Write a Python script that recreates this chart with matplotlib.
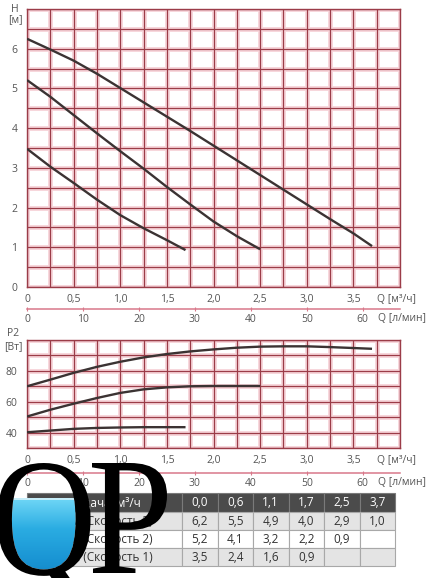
import numpy as np
import matplotlib
matplotlib.use('Agg')
import matplotlib.pyplot as plt
from matplotlib.patches import Rectangle, PathPatch, Polygon
from matplotlib.textpath import TextPath
from matplotlib.font_manager import FontProperties
import matplotlib.transforms as mtransforms

plt.rcParams['font.family'] = ['Open Sans', 'DejaVu Sans']

# --- данные ---
q_s3 = [0, 0.25, 0.5, 0.75, 1.0, 1.25, 1.5, 1.75, 2.0, 2.25, 2.5, 2.75, 3.0, 3.25, 3.5, 3.7]
h_s3 = [6.25, 5.98, 5.70, 5.37, 5.01, 4.65, 4.29, 3.93, 3.56, 3.19, 2.82, 2.45, 2.08, 1.71, 1.35, 1.03]
p_s3 = [70.0, 74.3, 78.7, 82.6, 85.9, 88.7, 90.9, 92.6, 93.9, 95.0, 95.7, 95.9, 95.9, 95.4, 94.8, 94.3]

q_s2 = [0, 0.25, 0.5, 0.75, 1.0, 1.25, 1.5, 1.75, 2.0, 2.25, 2.5]
h_s2 = [5.21, 4.79, 4.33, 3.87, 3.42, 2.98, 2.52, 2.08, 1.65, 1.28, 0.95]
p_s2 = [50.4, 54.8, 58.7, 62.4, 65.7, 68.0, 69.3, 70.0, 70.2, 70.2, 70.2]

q_s1 = [0, 0.25, 0.5, 0.75, 1.0, 1.25, 1.5, 1.7]
h_s1 = [3.48, 3.03, 2.62, 2.20, 1.81, 1.48, 1.18, 0.93]
p_s1 = [40.2, 41.3, 42.4, 43.0, 43.3, 43.5, 43.5, 43.5]

q_ticks = [0, 0.5, 1.0, 1.5, 2.0, 2.5, 3.0, 3.5]
lmin_ticks = [0, 10, 20, 30, 40, 50, 60]
h_ticks = [0, 1, 2, 3, 4, 5, 6]
p_ticks = [40, 60, 80]

tab_header = ['Подача, м³/ч', '0,0', '0,6', '1,1', '1,7', '2,5', '3,7']
tab_rows = [
    ['H, м (Скорость 3)', '6,2', '5,5', '4,9', '4,0', '2,9', '1,0'],
    ['H, м (Скорость 2)', '5,2', '4,1', '3,2', '2,2', '0,9', ''],
    ['H, м (Скорость 1)', '3,5', '2,4', '1,6', '0,9', '', ''],
]

W, H = 429, 578
fig = plt.figure(figsize=(W / 100, H / 100), dpi=100)

grid_col = '#9b3c48'
halo_col = '#f7d5da'
curve_col = '#3b3333'
lbl_col = '#555555'
sec_col = '#d8788a'


def px_axes(l, t, r, b):
    return fig.add_axes([l / W, 1 - b / H, (r - l) / W, (b - t) / H])


def decimal(v):
    return ('%.1f' % v).replace('.', ',') if v != 0 else '0'


def setup(ax, ymax, ymin, ystep, yt):
    ax.set_xlim(0, 4)
    ax.set_ylim(ymin, ymax)
    for x in np.arange(0, 4.01, 0.25):
        ax.axvline(x, color=halo_col, lw=3.5, zorder=0)
        ax.axvline(x, color=grid_col, lw=0.9, zorder=1)
    for y in np.arange(ymin, ymax + 0.01, ystep):
        ax.axhline(y, color=halo_col, lw=3.5, zorder=0)
        ax.axhline(y, color=grid_col, lw=0.9, zorder=1)
    for s in ax.spines.values():
        s.set_color(grid_col)
        s.set_linewidth(1.0)
    ax.set_xticks(q_ticks)
    ax.set_xticklabels([decimal(v) for v in q_ticks])
    ax.set_yticks(yt)
    ax.tick_params(length=0, labelsize=7.5, labelcolor=lbl_col, pad=5)
    ax.tick_params(axis='y', pad=7)


def sec_axis(ax, loc):
    sec = ax.secondary_xaxis(loc, functions=(lambda q: q * 1000 / 60, lambda l: l * 60 / 1000))
    sec.set_xticks(lmin_ticks)
    sec.spines['bottom'].set_color(sec_col)
    sec.spines['bottom'].set_linewidth(1.1)
    sec.tick_params(length=3, direction='inout', color=sec_col, labelsize=7.5,
                    labelcolor=lbl_col, pad=2)
    return sec


# --- напор ---
ax1 = px_axes(27, 9, 400, 287)
setup(ax1, 7, 0, 0.5, h_ticks)
for q, h in [(q_s3, h_s3), (q_s2, h_s2), (q_s1, h_s1)]:
    ax1.plot(q, h, color=curve_col, lw=1.7, solid_capstyle='butt', zorder=3)
ax1.text(0.937, -0.025, 'Q [м³/ч]', transform=ax1.transAxes, fontsize=7.5,
         color=lbl_col, ha='left', va='top')
sec_axis(ax1, -22 / 278)
ax1.text(0.94, -22 / 278 - 0.015, 'Q [л/мин]', transform=ax1.transAxes, fontsize=7.5,
         color=lbl_col, ha='left', va='top')

# --- мощность ---
ax2 = px_axes(27, 340, 400, 448)
setup(ax2, 100, 30, 10, p_ticks)
for q, p in [(q_s3, p_s3), (q_s2, p_s2), (q_s1, p_s1)]:
    ax2.plot(q, p, color=curve_col, lw=1.7, solid_capstyle='butt', zorder=3)
ax2.text(0.937, -0.065, 'Q [м³/ч]', transform=ax2.transAxes, fontsize=7.5,
         color=lbl_col, ha='left', va='top')
sec_axis(ax2, -25 / 108)
ax2.text(0.94, -25 / 108 - 0.04, 'Q [л/мин]', transform=ax2.transAxes, fontsize=7.5,
         color=lbl_col, ha='left', va='top')

# --- накладка в пикселях: подписи осей, таблица, логотип ---
ov = fig.add_axes([0, 0, 1, 1], zorder=10)
ov.axis('off')
ov.patch.set_alpha(0)

ov.text(15, 9, 'H', fontsize=7.5, color=lbl_col, ha='center', va='center')
ov.text(15, 20, '[м]', fontsize=7.5, color=lbl_col, ha='center', va='center')
ov.text(13, 334, 'P2', fontsize=7.5, color=lbl_col, ha='center', va='center')
ov.text(13, 347, '[Вт]', fontsize=7.5, color=lbl_col, ha='center', va='center')

# таблица
col_edges = [27, 182] + list(np.linspace(182, 395, 7)[1:])
row_edges = [493, 512, 530, 548, 566]
row_fill = ['#4b4b4b', '#e4e4e4', '#ffffff', '#e4e4e4']
for i, row in enumerate([tab_header] + tab_rows):
    for j, txt in enumerate(row):
        x0, x1 = col_edges[j], col_edges[j + 1]
        y0, y1 = row_edges[i], row_edges[i + 1]
        ov.add_patch(Rectangle((x0, y0), x1 - x0, y1 - y0, facecolor=row_fill[i],
                               edgecolor='#a8a8a8' if i else '#7a7a7a', lw=0.8, zorder=1))
        ov.text((x0 + x1) / 2, (y0 + y1) / 2 + 0.5, txt, fontsize=8.5,
                color='white' if i == 0 else '#333333', ha='center', va='center', zorder=2)

# логотип QP
fp = FontProperties(family='Liberation Serif')
tp_p = TextPath((0, 0), 'P', size=100, prop=fp)
tp_q = TextPath((0, 0), 'Q', size=100, prop=fp)
ep = tp_p.get_extents()
sx = (167 - 92) / ep.width
sy = (573 - 463) / ep.height
tr_p = mtransforms.Affine2D().translate(-ep.x0, -ep.y1).scale(sx, -sy).translate(92, 463)
eq = tp_q.get_extents()
tr_q = mtransforms.Affine2D().translate(-eq.x0, -eq.y1).scale(sx * 0.95, -sy).translate(-3, 463)

polys = tp_q.to_polygons()
areas = [abs(np.sum(p[:-1, 0] * p[1:, 1] - p[1:, 0] * p[:-1, 1])) / 2 for p in polys]
counter = polys[int(np.argmin(areas))]
counter_px = tr_q.transform(counter)
clip = Polygon(counter_px, closed=True, transform=ov.transData, facecolor='none', edgecolor='none')
ov.add_patch(clip)
grad = np.linspace(0, 1, 64)[:, None] * np.ones((1, 8))
water_cmap = matplotlib.colors.LinearSegmentedColormap.from_list(
    'w', ['#6fd6f6', '#2aace2', '#1a95d4', '#0f7fc0'])
water = ov.imshow(grad, cmap=water_cmap, extent=(0, 100, 590, 498), origin='upper',
                  aspect='auto', zorder=5, interpolation='bilinear')
water.set_clip_path(clip)
ov.plot([0, 100], [499, 499], color='#d8f4fc', lw=1.2, zorder=5.5, clip_path=clip)

ov.add_patch(PathPatch(tr_q.transform_path(tp_q), facecolor='black', edgecolor='none', zorder=6))
ov.add_patch(PathPatch(tr_p.transform_path(tp_p), facecolor='black', edgecolor='none', zorder=6))

ov.set_xlim(0, W)
ov.set_ylim(H, 0)

fig.savefig('out.png', dpi=100)
